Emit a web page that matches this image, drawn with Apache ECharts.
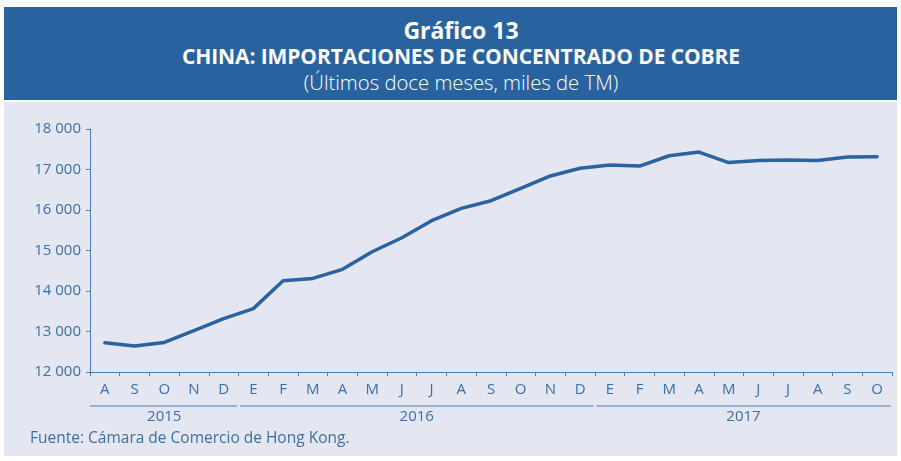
<!DOCTYPE html>
<html>
<head>
<meta charset="utf-8">
<script src="https://cdn.jsdelivr.net/npm/echarts@6/dist/echarts.min.js"></script>
<style>
  html, body { margin: 0; padding: 0; background: #ffffff; }
  .header {
    position: absolute; left: 4px; top: 7px; width: 893px; height: 93px;
    background: #2863a0; color: #fff; text-align: center;
    font-family: "Open Sans", sans-serif;
  }
  .header div { position: absolute; left: 21px; right: 0; white-space: nowrap; }
  .t1 { top: 7px; font-size: 23px; font-weight: bold; }
  .t2 { top: 35px; font-size: 21px; font-weight: bold; letter-spacing: -0.1px; }
  .t3 { top: 61px; font-size: 20.3px; font-weight: 300; }
  #chart { position: absolute; left: 0; top: 0; width: 901px; height: 461px; }
  .panel { position: absolute; left: 4px; top: 102px; width: 893px; height: 354px; background: #e4e6f1; }
</style>
</head>
<body>
<div class="panel"></div>
<div class="header">
  <div class="t1">Gráfico 13</div>
  <div class="t2">CHINA: IMPORTACIONES DE CONCENTRADO DE COBRE</div>
  <div class="t3">(Últimos doce meses, miles de TM)</div>
</div>
<div id="chart"></div>
<script>
// meses (ago 2015 - oct 2017)
const months = ['A', 'S', 'O', 'N', 'D',
  'E', 'F', 'M', 'A', 'M', 'J', 'J', 'A', 'S', 'O', 'N', 'D',
  'E', 'F', 'M', 'A', 'M', 'J', 'J', 'A', 'S', 'O'];
// miles de TM, últimos doce meses
const imports = [12720, 12640, 12730, 13020, 13320,
  13565, 14255, 14310, 14535, 14970, 15315, 15735, 16040, 16230, 16535, 16840, 17030,
  17110, 17085, 17340, 17430, 17170, 17220, 17235, 17225, 17310, 17315];
// años y cantidad de meses en cada uno
const years = ['2015', '2016', '2017'];
const yearMonths = [5, 12, 10];
const yTicks = [12000, 18000, 1000];

const blue = '#2a62a2';
const axisBlue = '#4a7db6';
const textBlue = '#3b6fa9';

const chart = echarts.init(document.getElementById('chart'), null, { renderer: 'canvas' });

chart.setOption({
  animation: false,
  grid: { left: 90, right: 9, top: 129, bottom: 89 },
  xAxis: {
    type: 'category',
    data: months,
    boundaryGap: true,
    axisLine: { lineStyle: { color: axisBlue, width: 1 } },
    axisTick: { show: true, length: 4, lineStyle: { color: axisBlue } },
    axisLabel: {
      color: textBlue, fontSize: 15, fontFamily: 'Open Sans', margin: 10, interval: 0
    },
    splitLine: { show: false }
  },
  yAxis: {
    type: 'value',
    min: yTicks[0],
    max: yTicks[1],
    interval: yTicks[2],
    axisLine: { show: true, lineStyle: { color: axisBlue, width: 1 } },
    axisTick: { show: true, length: 4, lineStyle: { color: axisBlue } },
    axisLabel: {
      color: textBlue, fontSize: 15, fontFamily: 'Open Sans', margin: 9,
      formatter: v => String(v).replace(/\B(?=(\d{3})+(?!\d))/g, ' ')
    },
    splitLine: { show: false }
  },
  series: [{
    type: 'line',
    data: imports,
    symbol: 'none',
    lineStyle: { color: blue, width: 3.5, cap: 'round', join: 'round' }
  }]
});

// líneas y etiquetas de años bajo el eje
const graphics = [];
let start = 0;
yearMonths.forEach((n, i) => {
  const x0 = chart.convertToPixel({ xAxisIndex: 0 }, start) - 14.85;
  const x1 = chart.convertToPixel({ xAxisIndex: 0 }, start + n - 1) + 14.85;
  const y = chart.convertToPixel({ yAxisIndex: 0 }, yTicks[0]);
  graphics.push({
    type: 'line',
    shape: { x1: x0 + (i > 0 ? 1.5 : 0), y1: y + 34, x2: x1 - 1.5, y2: y + 34 },
    style: { stroke: axisBlue, lineWidth: 1.2 },
    silent: true
  });
  graphics.push({
    type: 'text',
    x: (x0 + x1) / 2, y: y + 45,
    style: {
      text: years[i], fill: textBlue, font: '15px "Open Sans"',
      align: 'center', verticalAlign: 'middle'
    }
  });
  start += n;
});
graphics.push({
  type: 'text',
  left: 30, top: 431,
  style: { text: 'Fuente: Cámara de Comercio de Hong Kong.', fill: textBlue, font: '15.5px "Open Sans"' }
});
chart.setOption({ graphic: graphics });
</script>
</body>
</html>
